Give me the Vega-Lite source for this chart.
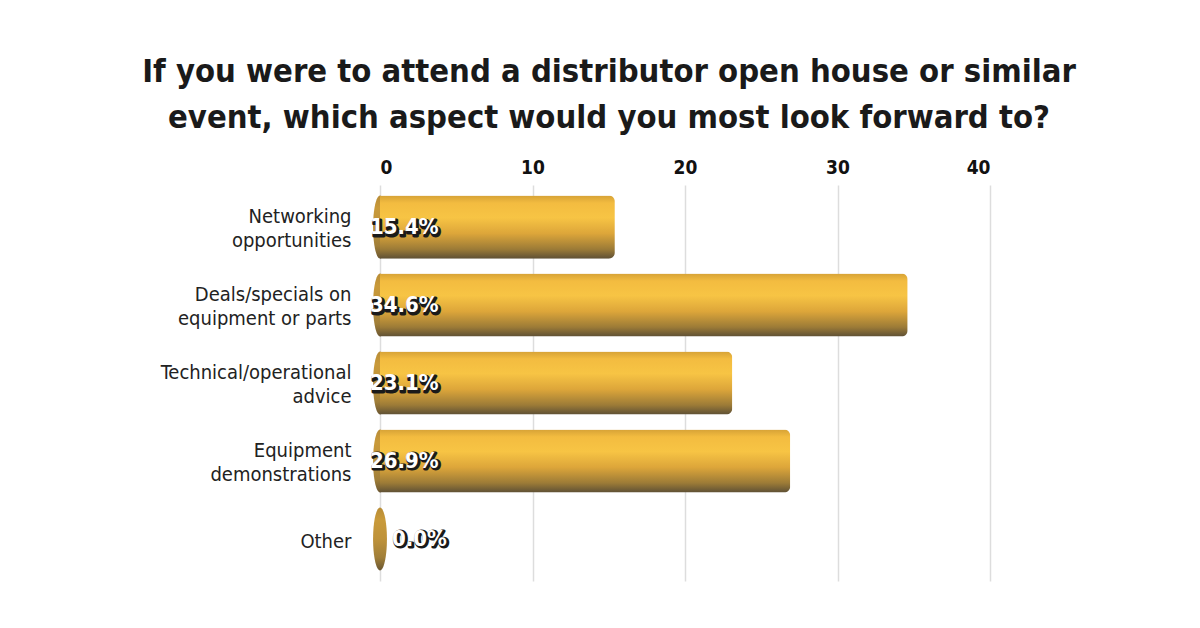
{
  "$schema": "https://vega.github.io/schema/vega-lite/v6.json",
  "autosize": {"type": "none"},
  "width": 610,
  "height": 396,
  "padding": {"left": 380, "top": 185, "right": 210, "bottom": 47},
  "background": "white",
  "config": {"view": {"stroke": null}},
  "title": {
    "text": ["If you were to attend a distributor open house or similar", "event, which aspect would you most look forward to?"],
    "font": "DejaVu Sans Condensed, sans-serif",
    "fontSize": 32.5,
    "fontWeight": "bold",
    "lineHeight": 46,
    "color": "#1a1a1a",
    "anchor": "middle",
    "dx": -76,
    "offset": 24
  },
  "data": {
    "values": [
      {"category": "Networking\nopportunities", "pct": 15.4},
      {"category": "Deals/specials on\nequipment or parts", "pct": 34.6},
      {"category": "Technical/operational\nadvice", "pct": 23.1},
      {"category": "Equipment\ndemonstrations", "pct": 26.9},
      {"category": "Other", "pct": 0.0}
    ]
  },
  "transform": [{"calculate": "format(datum.pct, '.1f') + '%'", "as": "label"}],
  "encoding": {
    "y": {
      "field": "category",
      "type": "nominal",
      "sort": null,
      "scale": {"paddingInner": 0.19, "paddingOuter": 0.135},
      "axis": {
        "title": null,
        "domain": false,
        "ticks": false,
        "labelPadding": 29,
        "labelExpr": "split(datum.label, '\\n')",
        "labelOffset": {"condition": {"test": "datum.label == 'Other'", "value": 3}, "value": -10},
        "labelFont": "DejaVu Sans Condensed, sans-serif",
        "labelFontSize": 20,
        "labelLineHeight": 24,
        "labelColor": "#222222",
        "labelLimit": 400
      }
    }
  },
  "layer": [
    {
      "mark": {
        "type": "point",
        "shape": "M0,-1A0.22,1 0 1,1 0,1A0.22,1 0 1,1 0,-1Z",
        "size": 3969,
        "filled": true,
        "opacity": 1,
        "strokeWidth": 0,
        "fill": {
          "gradient": "linear", "x1": 0, "y1": 0, "x2": 0, "y2": 1,
          "stops": [
            {"offset": 0, "color": "#B88C36"},
            {"offset": 0.2, "color": "#C99A3A"},
            {"offset": 0.5, "color": "#BE923A"},
            {"offset": 0.8, "color": "#A07E38"},
            {"offset": 1, "color": "#6A5632"}
          ]
        }
      },
      "encoding": {
        "x": {
          "datum": 0,
          "type": "quantitative",
          "scale": {"domain": [0, 40], "nice": false},
          "axis": {
            "orient": "top",
            "values": [0, 10, 20, 30, 40],
            "title": null,
            "domain": false,
            "ticks": false,
            "labelPadding": 8,
            "labelFont": "DejaVu Sans Condensed, sans-serif",
            "labelFontSize": 19,
            "labelFontWeight": "bold",
            "labelColor": "#111111",
            "grid": true,
            "gridColor": "#dddddd",
            "gridWidth": 1.5
          }
        }
      }
    },
    {
      "mark": {
        "type": "bar",
        "cornerRadiusEnd": 6,
        "fill": {
          "gradient": "linear", "x1": 0, "y1": 0, "x2": 0, "y2": 1,
          "stops": [
            {"offset": 0, "color": "#D6A236"},
            {"offset": 0.12, "color": "#F3BC40"},
            {"offset": 0.35, "color": "#F7C444"},
            {"offset": 0.6, "color": "#DDA63A"},
            {"offset": 0.85, "color": "#9C7B37"},
            {"offset": 1, "color": "#5E5035"}
          ]
        }
      },
      "encoding": {
        "x": {"field": "pct", "type": "quantitative"}
      }
    },
    {
      "mark": {
        "type": "text",
        "align": "left",
        "baseline": "middle",
        "font": "DejaVu Sans Condensed, sans-serif",
        "fontSize": 22,
        "fontWeight": "bold",
        "fill": "#1a1a1a",
        "stroke": "#1a1a1a",
        "strokeWidth": 3,
        "strokeJoin": "round",
        "dx": {"expr": "datum.pct == 0 ? 13.5 : -8.5"},
        "dy": 1.5
      },
      "encoding": {
        "x": {"datum": 0, "type": "quantitative"},
        "text": {"field": "label"}
      }
    },
    {
      "mark": {
        "type": "text",
        "align": "left",
        "baseline": "middle",
        "font": "DejaVu Sans Condensed, sans-serif",
        "fontSize": 22,
        "fontWeight": "bold",
        "fill": "white",
        "dx": {"expr": "datum.pct == 0 ? 12 : -10"}
      },
      "encoding": {
        "x": {"datum": 0, "type": "quantitative"},
        "text": {"field": "label"}
      }
    }
  ]
}
